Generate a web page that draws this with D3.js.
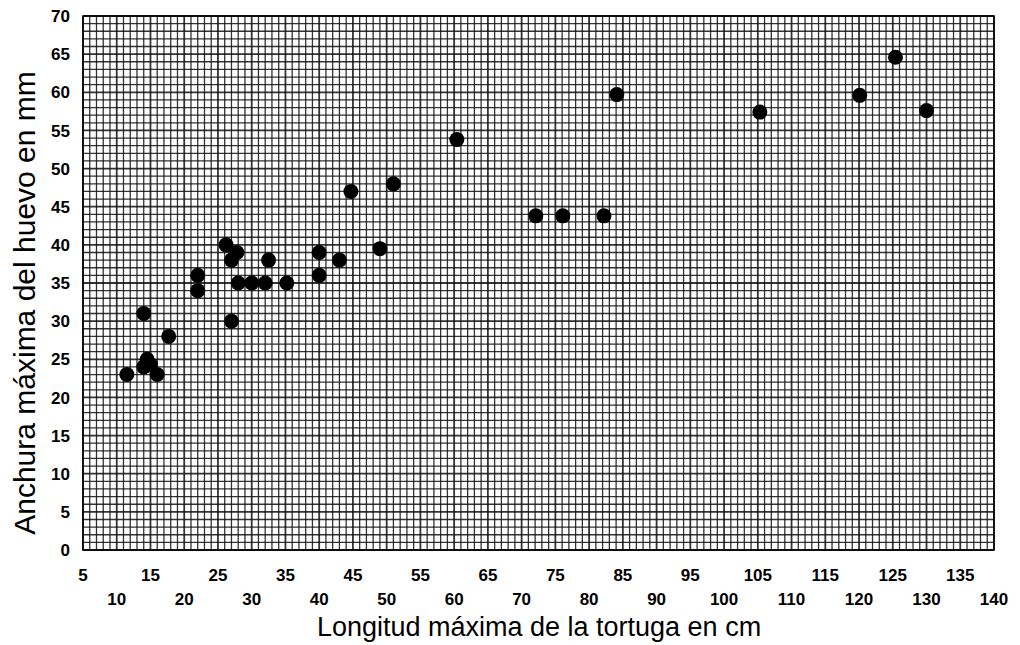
<!DOCTYPE html>
<html><head><meta charset="utf-8">
<script src="https://cdn.jsdelivr.net/npm/d3@7"></script>
<style>body{margin:0;background:#fff}svg{display:block}</style>
</head><body>
<script>
const longitud = [11.5,14,14.5,15,16,14,17.7,22,22,26.2,27,27.8,27,28,30,32,32.5,35.2,40,40,43,44.7,49,51,60.4,72.1,76.1,82.2,84.1,105.3,120.1,125.4,130];
const anchura  = [23,24,25,24.3,23,31,28,36,34,40,38,39,30,35,35,35,38,35,39,36,38,47,39.5,48,53.8,43.8,43.8,43.8,59.7,57.4,59.6,64.6,57.6];
const xTicksTop = [5,15,25,35,45,55,65,75,85,95,105,115,125,135];
const xTicksBottom = [10,20,30,40,50,60,70,80,90,100,110,120,130,140];
const yTicks = [0,5,10,15,20,25,30,35,40,45,50,55,60,65,70];
const xTitle = "Longitud máxima de la tortuga en cm";
const yTitle = "Anchura máxima del huevo en mm";

const W = 1020, H = 645;
const m = {l:83, r:994, t:16, b:550};
const svg = d3.select("body").append("svg").attr("width",W).attr("height",H);
const x = d3.scaleLinear().domain([5,140]).range([m.l,m.r]);
const y = d3.scaleLinear().domain([0,70]).range([m.b,m.t]);

const g = svg.append("g");
// grid every 1 unit
g.selectAll("line.vx").data(d3.range(5,141,1)).join("line")
  .attr("x1",d=>x(d)).attr("x2",d=>x(d)).attr("y1",m.t).attr("y2",m.b)
  .attr("stroke","#111").attr("stroke-width",d=>d%5===0?1.8:1.3).attr("opacity",0.85);
g.selectAll("line.hy").data(d3.range(0,71,1)).join("line")
  .attr("y1",d=>y(d)).attr("y2",d=>y(d)).attr("x1",m.l).attr("x2",m.r)
  .attr("stroke","#111").attr("stroke-width",d=>d%5===0?1.8:1.3).attr("opacity",0.85);
g.append("rect").attr("x",m.l).attr("y",m.t).attr("width",m.r-m.l).attr("height",m.b-m.t)
  .attr("fill","none").attr("stroke","#000").attr("stroke-width",1.5);

// points
svg.selectAll("circle").data(longitud.map((v,i)=>[v,anchura[i]])).join("circle")
  .attr("cx",d=>x(d[0])).attr("cy",d=>y(d[1])).attr("r",7.5).attr("fill","#000");

const font = "'Liberation Sans', Arial, sans-serif";
// y tick labels
svg.append("g").selectAll("text").data(yTicks).join("text")
  .attr("x",m.l-13).attr("y",d=>y(d)).attr("dy","0.36em").attr("text-anchor","end")
  .attr("font-family",font).attr("font-weight","bold").attr("font-size",17).text(d=>d);
// x tick labels
svg.append("g").selectAll("text").data(xTicksTop).join("text")
  .attr("x",d=>x(d)).attr("y",581).attr("text-anchor","middle")
  .attr("font-family",font).attr("font-weight","bold").attr("font-size",17).text(d=>d);
svg.append("g").selectAll("text").data(xTicksBottom).join("text")
  .attr("x",d=>x(d)).attr("y",605).attr("text-anchor","middle")
  .attr("font-family",font).attr("font-weight","bold").attr("font-size",17).text(d=>d);
// titles
svg.append("text").attr("x",539).attr("y",636).attr("text-anchor","middle")
  .attr("font-family",font).attr("font-size",27).text(xTitle);
svg.append("text").attr("transform","translate(35,303) rotate(-90)").attr("text-anchor","middle")
  .attr("font-family",font).attr("font-size",30).text(yTitle);
</script>
</body></html>
